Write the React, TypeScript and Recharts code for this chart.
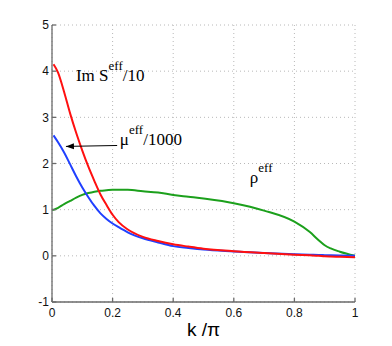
import React from 'react';
import { LineChart, Line, XAxis, YAxis, CartesianGrid, ReferenceDot, ReferenceLine } from 'recharts';

const kValues = [0, 0.005, 0.02, 0.04, 0.06, 0.08, 0.1, 0.12, 0.14, 0.16, 0.18, 0.2, 0.22, 0.25, 0.3, 0.35, 0.4, 0.45, 0.5, 0.6, 0.7, 0.8, 0.85, 0.88, 0.9, 0.92, 0.95, 1.0];
const imSValues = [null, 4.15, 3.97, 3.55, 3.08, 2.66, 2.28, 1.93, 1.62, 1.33, 1.1, 0.89, 0.73, 0.57, 0.41, 0.32, 0.25, 0.2, 0.155, 0.1, 0.06, 0.025, 0.01, 0.0, -0.01, -0.015, -0.02, -0.03];
const muValues = [null, 2.61, 2.46, 2.24, 1.98, 1.72, 1.48, 1.27, 1.08, 0.92, 0.8, 0.7, 0.62, 0.51, 0.38, 0.29, 0.21, 0.17, 0.135, 0.095, 0.06, 0.035, 0.025, 0.02, 0.015, 0.01, 0.005, 0.0];
const rhoValues = [1.0, 1.0, 1.04, 1.12, 1.19, 1.26, 1.32, 1.36, 1.39, 1.41, 1.42, 1.43, 1.43, 1.43, 1.4, 1.37, 1.32, 1.28, 1.24, 1.14, 0.98, 0.74, 0.52, 0.34, 0.23, 0.16, 0.09, 0.0];
const xTicks = [0, 0.2, 0.4, 0.6, 0.8, 1];
const yTicks = [-1, 0, 1, 2, 3, 4, 5];

const data = kValues.map((k, i) => ({ k, imS: imSValues[i], mu: muValues[i], rho: rhoValues[i] }));

const SERIF = '"Liberation Serif", "DejaVu Serif", serif';
const SANS = '"Liberation Sans", Arial, sans-serif';
const FRAME = '#6a6a6a';

const annot = (main: string, sup: string, tail: string) => (props: any) => {
  const vb = props.viewBox || {};
  const x = vb.x + (vb.width || 0) / 2;
  const y = vb.y + (vb.height || 0) / 2;
  return (
    <text x={x} y={y} style={{ fontFamily: SERIF, fontSize: 17 }} fill="#000">
      <tspan>{main}</tspan>
      <tspan style={{ fontSize: 13 }} dy={-11}>{sup}</tspan>
      <tspan dy={11}>{tail}</tspan>
    </text>
  );
};

const Arrow = (props: any) => {
  const { x1, y1, x2, y2 } = props;
  const ang = Math.atan2(y2 - y1, x2 - x1);
  const L = 8, W = 3;
  const bx = x2 - L * Math.cos(ang), by = y2 - L * Math.sin(ang);
  const px = -Math.sin(ang) * W, py = Math.cos(ang) * W;
  return (
    <g>
      <line x1={x1} y1={y1} x2={x2} y2={y2} stroke="#000" strokeWidth={1} />
      <polygon points={`${x2},${y2} ${bx + px},${by + py} ${bx - px},${by - py}`} fill="#000" />
    </g>
  );
};

export default function App() {
  return (
    <LineChart width={384} height={338} data={data} margin={{ top: 17, right: 37, left: 0, bottom: 0 }}>
      <CartesianGrid stroke="#b8b8b8" strokeDasharray="1 3" />
      <XAxis dataKey="k" type="number" domain={[0, 1]} ticks={xTicks} height={44}
        tickSize={-4} tickMargin={10} stroke={FRAME} strokeWidth={1.3}
        tick={{ fontFamily: SANS, fontSize: 12, fill: '#111' }}
        label={{ value: 'k /π', position: 'insideBottom', offset: 10, style: { fontFamily: SANS, fontSize: 19, fontWeight: 'normal' }, fill: '#000' }} />
      <XAxis xAxisId="top" orientation="top" dataKey="k" type="number" domain={[0, 1]} ticks={xTicks} height={0}
        tickSize={-4} tickFormatter={() => ''} stroke={FRAME} strokeWidth={1.3} />
      <YAxis type="number" domain={[-1, 5]} ticks={yTicks} width={44} allowDataOverflow
        tickSize={-4} tickMargin={7} stroke={FRAME} strokeWidth={1.3}
        tick={{ fontFamily: SANS, fontSize: 12, fill: '#111' }} />
      <YAxis yAxisId="right" orientation="right" type="number" domain={[-1, 5]} ticks={yTicks} width={0} allowDataOverflow
        tickSize={-4} tickFormatter={() => ''} stroke={FRAME} strokeWidth={1.3} />
      <Line dataKey="rho" stroke="#1ca01c" strokeWidth={2} dot={false} type="monotone" isAnimationActive={false} />
      <Line dataKey="mu" stroke="#2040ff" strokeWidth={2} dot={false} type="monotone" isAnimationActive={false} />
      <Line dataKey="imS" stroke="#ff1010" strokeWidth={2} dot={false} type="monotone" isAnimationActive={false} />
      <ReferenceLine segment={[{ x: 0.215, y: 2.39 }, { x: 0.046, y: 2.37 }]} shape={Arrow} />
      <ReferenceDot x={0.079} y={3.78} r={0} fill="none" stroke="none" label={{ content: annot('Im S', 'eff', '/10') }} />
      <ReferenceDot x={0.224} y={2.39} r={0} fill="none" stroke="none" label={{ content: annot('μ', 'eff', '/1000') }} />
      <ReferenceDot x={0.653} y={1.57} r={0} fill="none" stroke="none" label={{ content: annot('ρ', 'eff', '') }} />
    </LineChart>
  );
}
